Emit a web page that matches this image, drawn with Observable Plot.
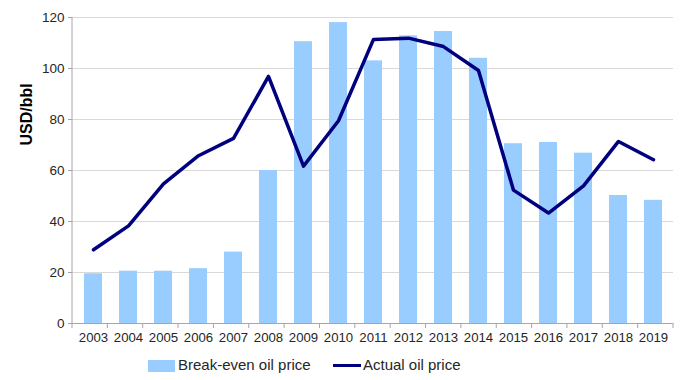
<!DOCTYPE html>
<html><head><meta charset="utf-8">
<script src="https://cdn.jsdelivr.net/npm/d3@7"></script>
<script src="https://cdn.jsdelivr.net/npm/@observablehq/plot@0.6"></script>
<style>
body{margin:0;background:#fff;font-family:"Liberation Sans",Arial,sans-serif;}
#legend{display:flex;align-items:center;height:30px;font-size:15px;color:#262626;position:relative;}
.sw{display:inline-block;}
</style></head><body>
<div id="chart"></div>
<div id="legend"></div>
<script>
const years = ["2003","2004","2005","2006","2007","2008","2009","2010","2011","2012","2013","2014","2015","2016","2017","2018","2019"];
const breakEven = [19.5,20.5,20.5,21.5,28,60,110.5,118,103,112.8,114.5,104,70.5,71,66.8,50.2,48.3];
const actual = [28.9,38.3,54.8,65.8,72.6,96.9,61.7,79.5,111.4,111.9,108.6,99.2,52.3,43.3,54,71.4,64.2];
const yTicks = [0,20,40,60,80,100,120];
const seriesNames = ["Break-even oil price","Actual oil price"];
const barColor = "#99CCFF", lineColor = "#00007F";

const data = years.map((y,i)=>({year:y, be:breakEven[i], act:actual[i]}));

function bandTicks(index, scales, values, dims) {
  const g = d3.create("svg:g");
  const left = dims.marginLeft, right = dims.width - dims.marginRight;
  const n = years.length, step = (right-left)/n;
  const y0 = scales.y(0), yTop = scales.y(120);
  g.append("line").attr("x1",left).attr("x2",left).attr("y1",yTop).attr("y2",y0).attr("stroke","#a6a6a6");
  for (let i=0;i<=n;i++){
    const x = left + i*step;
    g.append("line").attr("x1",x).attr("x2",x).attr("y1",y0).attr("y2",y0+5).attr("stroke","#a6a6a6");
  }
  return g.node();
}

const plot = Plot.plot({
  width: 680, height: 350,
  marginLeft: 72, marginRight: 7, marginTop: 17, marginBottom: 27,
  style: {fontFamily: "'Liberation Sans', Arial, sans-serif", fontSize: "13px", color: "#262626"},
  x: {type: "band", domain: years, paddingInner: 0.5, paddingOuter: 0.25, label: null},
  y: {domain: [0,120], ticks: yTicks, label: null},
  marks: [
    Plot.gridY(yTicks, {stroke: "#d9d9d9", strokeOpacity: 1}),
    Plot.barY(data, {x: "year", y: "be", fill: barColor}),
    Plot.ruleY([0], {stroke: "#a6a6a6"}),
    bandTicks,
    Plot.axisY(yTicks, {tickSize: 4, tickPadding: 4, stroke: "#a6a6a6", fill: "#262626", fontSize: 13.5, label: null}),
    Plot.axisX({tickSize: 0, tickPadding: 9, fill: "#262626", fontSize: 13.2, label: null}),
    Plot.line(data, {x: "year", y: "act", stroke: lineColor, strokeWidth: 3.5}),
    Plot.text(["USD/bbl"], {frameAnchor: "left", dx: -46, dy: -25, rotate: -90, fontWeight: "bold", fontSize: 16, fill: "#000"})
  ]
});
document.getElementById("chart").appendChild(plot);

const lg = document.getElementById("legend");
lg.innerHTML = `
<span class="sw" style="position:absolute;left:148px;top:10px;width:27px;height:12px;background:${barColor}"></span>
<span style="position:absolute;left:178px;top:6px;">${seriesNames[0]}</span>
<span class="sw" style="position:absolute;left:333px;top:14px;width:28px;height:3px;background:${lineColor}"></span>
<span style="position:absolute;left:363px;top:6px;">${seriesNames[1]}</span>`;
</script>
</body></html>
